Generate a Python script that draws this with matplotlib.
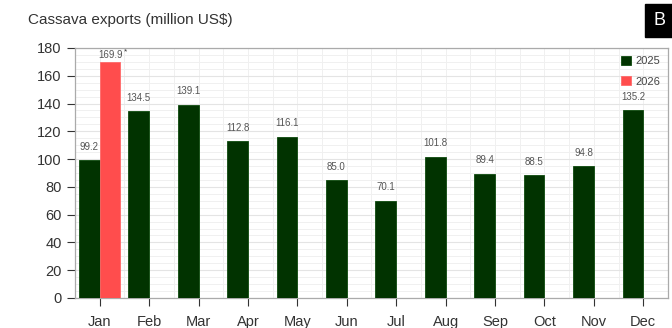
import numpy as np
import matplotlib.pyplot as plt
from matplotlib.ticker import MultipleLocator

months = ['Jan', 'Feb', 'Mar', 'Apr', 'May', 'Jun', 'Jul', 'Aug', 'Sep', 'Oct', 'Nov', 'Dec']
exports_2025 = [99.2, 134.5, 139.1, 112.8, 116.1, 85.0, 70.1, 101.8, 89.4, 88.5, 94.8, 135.2]
exports_2026 = [169.9]

green = '#013300'
red = '#ff4d4d'

plt.rcParams['font.family'] = ['Liberation Sans', 'DejaVu Sans']

fig = plt.figure(figsize=(6.72, 3.28), dpi=100)
ax = fig.add_axes([0.1116, 0.0915, 0.8824, 0.7622])

x = np.arange(len(months))
w = 0.42
ax.bar(x - w / 2, exports_2025, w, color=green, edgecolor='#0d4a0d', linewidth=0.6, label='2025', zorder=3)
ax.bar(x[:len(exports_2026)] + w / 2, exports_2026, w, color=red, edgecolor='#ff6a6a', linewidth=0.6, label='2026', zorder=3)

for xi, v in zip(x, exports_2025):
    ax.text(xi - w / 2, v + 6, f'{v:.1f}', ha='center', va='bottom', fontsize=7, color='#555555')
for xi, v in zip(x, exports_2026):
    ax.text(xi + w / 2, v + 1.2, f'{v:.1f}', ha='center', va='bottom', fontsize=7, color='#555555')
    ax.annotate('*', xy=(xi + w / 2, v), xytext=(11, 5), textcoords='offset points',
                ha='center', va='bottom', fontsize=6, color='#333333', annotation_clip=False)

ax.set_xlim(-0.5, 11.5)
ax.set_ylim(0, 180)
ax.set_xticks(x)
ax.set_xticklabels(months)
ax.yaxis.set_major_locator(MultipleLocator(20))
ax.yaxis.set_minor_locator(MultipleLocator(5))
ax.set_xticks(np.arange(-0.5, 12, 1), minor=True)
ax.tick_params(axis='both', which='major', labelsize=10.5, colors='#333333', length=6, width=0.8)
ax.tick_params(axis='x', which='major', pad=6)
ax.tick_params(axis='both', which='minor', length=0)
ax.grid(True, which='both', color='#f0f0f0', linewidth=0.7, zorder=0)
ax.grid(True, which='major', axis='y', color='#e4e4e4', linewidth=0.8, zorder=0)
for s in ax.spines.values():
    s.set_color('#aaaaaa')
    s.set_linewidth(0.9)

ax.legend(loc='upper right', frameon=False, fontsize=8, handlelength=0.9, handleheight=0.9,
          handletextpad=0.4, labelspacing=0.9, borderaxespad=0.3, labelcolor='#444444')

fig.text(0.042, 0.94, 'Cassava exports (million US$)', fontsize=11, color='#333333', va='center')
fig.text(0.981, 0.937, 'B', fontsize=13, color='white', ha='center', va='center',
         bbox=dict(boxstyle='square,pad=0.45', facecolor='black', edgecolor='black'))

fig.savefig('out.png', dpi=100)
